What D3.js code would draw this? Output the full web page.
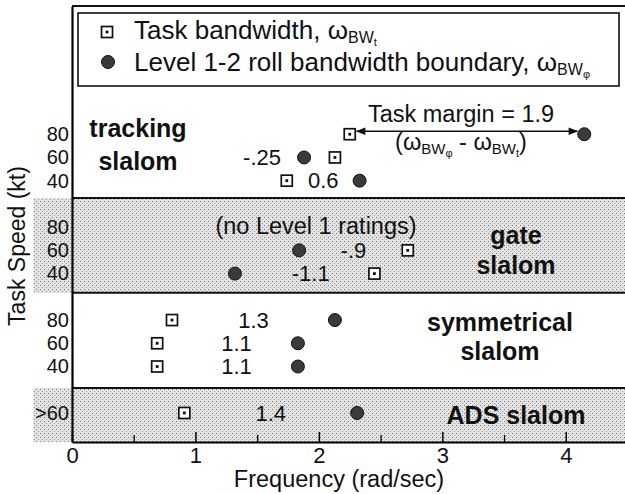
<!DOCTYPE html>
<html>
<head>
<meta charset="utf-8">
<script src="https://cdn.jsdelivr.net/npm/d3@7"></script>
<style>
  body { margin: 0; background: #fff; }
  svg text { font-family: "Liberation Sans", Arial, Helvetica, sans-serif; fill: #111; }
</style>
</head>
<body>
<script>
(function () {

    //chart values
    var speedLabels = ["80", "60", "40", "80", "60", "40", "80", "60", "40", ">60"];
    var rowSection = [0, 0, 0, 1, 1, 1, 2, 2, 2, 3];
    var taskBW = [2.25, 2.13, 1.74, null, 2.72, 2.45, 0.81, 0.69, 0.69, 0.91];  //squares
    var rollBW = [4.15, 1.88, 2.33, null, 1.84, 1.32, 2.13, 1.83, 1.83, 2.31];  //circles
    var marginLabels = ["", "-.25", "0.6", "", "-.9", "-1.1", "1.3", "1.1", "1.1", "1.4"];
    var xTicks = [0, 1, 2, 3, 4];
    var xMinorTicks = [0.5, 1.5, 2.5, 3.5];

    var width = 625, height = 494;

    var svg = d3.select("body").append("svg")
        .attr("width", width)
        .attr("height", height);

    //stipple texture for the shaded bands
    var defs = svg.append("defs");
    var pat = defs.append("pattern")
        .attr("id", "stipple")
        .attr("patternUnits", "userSpaceOnUse")
        .attr("width", 4).attr("height", 4);
    pat.append("rect").attr("width", 4).attr("height", 4).style("fill", "#e2e2e2");
    pat.append("rect").attr("x", 0).attr("y", 1).attr("width", 1).attr("height", 1).style("fill", "#7a7a7a");
    pat.append("rect").attr("x", 2).attr("y", 3).attr("width", 1).attr("height", 1).style("fill", "#9a9a9a");

    //scales
    var x = d3.scaleLinear().domain([0, 4.48]).range([72, 625]);
    var y = d3.scaleLinear().domain([-5.52, 13.25]).range([6, 442]);

    //row position: rows with one empty slot between sections
    var rowPos = speedLabels.map(function (d, i) { return i + rowSection[i]; });

    //shaded bands (gate and ADS)
    var bands = [[2.75, 6.83], [10.92, 13.25]];
    svg.selectAll(".band")
        .data(bands)
        .enter()
        .append("rect")
        .attr("class", "band")
        .attr("x", 33)
        .attr("width", width - 33)
        .attr("y", function (d) { return y(d[0]); })
        .attr("height", function (d) { return y(d[1]) - y(d[0]); })
        .style("fill", "url(#stipple)");

    //section boundary lines and top frame
    var frameLines = [-5.52, 2.75, 6.83, 10.92];
    svg.selectAll(".sep")
        .data(frameLines)
        .enter()
        .append("line")
        .attr("x1", x(0)).attr("x2", width)
        .attr("y1", function (d) { return y(d); })
        .attr("y2", function (d) { return y(d); })
        .style("stroke", "#111")
        .style("stroke-width", 2);

    //legend box
    svg.append("rect")
        .attr("x", 78).attr("y", 13)
        .attr("width", 541).attr("height", 73)
        .style("fill", "#fff")
        .style("stroke", "#111")
        .style("stroke-width", 1.6);

    function drawSquare(g, cx, cy) {
        g.append("rect")
            .attr("x", cx - 5.5).attr("y", cy - 5.5)
            .attr("width", 11).attr("height", 11)
            .style("fill", "#fff").style("stroke", "#111").style("stroke-width", 1.7);
        g.append("rect")
            .attr("x", cx - 1.4).attr("y", cy - 1.4)
            .attr("width", 2.8).attr("height", 2.8)
            .style("fill", "#111");
    }

    function drawCircle(g, cx, cy) {
        g.append("circle")
            .attr("cx", cx).attr("cy", cy).attr("r", 6.5)
            .style("fill", "#3a3a3a").style("stroke", "#111").style("stroke-width", 1);
    }

    //omega with subscript BW and sub-subscript
    function addOmega(t, sub, big) {
        t.append("tspan").text("\u03c9");
        t.append("tspan").attr("dy", 4).style("font-size", big ? "16px" : "15px").text("BW");
        t.append("tspan").attr("dy", 3).style("font-size", "11px").text(sub);
    }

    var legend = svg.append("g");
    drawSquare(legend, 107, 32);
    drawCircle(legend, 108, 62);
    var l1 = legend.append("text").attr("x", 134).attr("y", 39).style("font-size", "26px");
    l1.append("tspan").text("Task bandwidth, ");
    addOmega(l1, "t", true);
    var l2 = legend.append("text").attr("x", 134).attr("y", 71).style("font-size", "26px");
    l2.append("tspan").text("Level 1-2 roll bandwidth boundary, ");
    addOmega(l2, "\u03c6", true);

    //axes
    var xAxis = d3.axisBottom(x)
        .tickValues(xTicks)
        .tickFormat(d3.format("d"))
        .tickSizeInner(-10)
        .tickSizeOuter(0)
        .tickPadding(5);

    var gx = svg.append("g")
        .attr("transform", "translate(0," + y(13.25) + ")")
        .call(xAxis);
    gx.select(".domain").style("stroke-width", 2.2);
    gx.selectAll(".tick line").style("stroke-width", 1.5);
    gx.selectAll("text").style("font-size", "22px").style("font-family", "Liberation Sans, Arial, sans-serif");

    var gxm = svg.append("g")
        .attr("transform", "translate(0," + y(13.25) + ")")
        .call(d3.axisBottom(x).tickValues(xMinorTicks).tickSizeInner(-7).tickSizeOuter(0).tickFormat(""));
    gxm.select(".domain").remove();
    gxm.selectAll(".tick line").style("stroke-width", 1.3);

    var yAxis = d3.axisLeft(y)
        .tickValues(rowPos)
        .tickFormat(function (d, i) { return speedLabels[i]; })
        .tickSize(0)
        .tickPadding(3);

    var gy = svg.append("g")
        .attr("transform", "translate(" + x(0) + ",0)")
        .call(yAxis);
    gy.select(".domain").style("stroke-width", 2.2);
    gy.selectAll("text").style("font-size", "20px").style("font-family", "Liberation Sans, Arial, sans-serif");

    //axis titles
    svg.append("text")
        .attr("x", 339).attr("y", 487)
        .attr("text-anchor", "middle")
        .style("font-size", "23.5px")
        .text("Frequency (rad/sec)");

    svg.append("text")
        .attr("transform", "translate(25,246) rotate(-90)")
        .attr("text-anchor", "middle")
        .style("font-size", "23px")
        .text("Task Speed (kt)");

    //data points
    var rows = speedLabels.map(function (d, i) {
        return { pos: rowPos[i], task: taskBW[i], roll: rollBW[i], label: marginLabels[i] };
    });

    var pts = svg.append("g");
    rows.forEach(function (r) {
        if (r.task === null) return;
        drawSquare(pts, x(r.task), y(r.pos));
        drawCircle(pts, x(r.roll), y(r.pos));
    });

    //margin labels: between the two marks, "-.25" sits left of the pair
    var labelShift = [0, 0, 0, 0, 0, 6, 0, 9, 9, 0];
    svg.selectAll(".mlabel")
        .data(rows.filter(function (r) { return r.label !== ""; }))
        .enter()
        .append("text")
        .attr("class", "mlabel")
        .attr("x", function (r) {
            var i = rows.indexOf(r);
            if (i === 1) return x(Math.min(r.task, r.roll)) - 42;
            return x((r.task + r.roll) / 2) + labelShift[i];
        })
        .attr("y", function (r) { return y(r.pos); })
        .attr("dy", "0.35em")
        .attr("text-anchor", "middle")
        .style("font-size", "22px")
        .text(function (r) { return r.label; });

    //task margin arrow for tracking 80 kt
    ["start", "end"].forEach(function (k) {
        defs.append("marker")
            .attr("id", "arr-" + k)
            .attr("viewBox", "0 0 10 10")
            .attr("refX", 9).attr("refY", 5)
            .attr("markerWidth", 7).attr("markerHeight", 6)
            .attr("orient", k === "start" ? "auto-start-reverse" : "auto")
            .append("path")
            .attr("d", "M0,1 L10,5 L0,9 Z")
            .style("fill", "#111");
    });
    var r0 = rows[0];
    svg.append("line")
        .attr("x1", x(r0.task) + 7).attr("x2", x(r0.roll) - 7)
        .attr("y1", y(r0.pos) - 3).attr("y2", y(r0.pos) - 3)
        .style("stroke", "#111").style("stroke-width", 1.6)
        .attr("marker-start", "url(#arr-start)")
        .attr("marker-end", "url(#arr-end)");

    var midX = x((r0.task + r0.roll) / 2) - 6;
    svg.append("text")
        .attr("x", midX).attr("y", y(r0.pos) - 12)
        .attr("text-anchor", "middle")
        .style("font-size", "23.5px")
        .text("Task margin = " + d3.format(".1f")(r0.roll - r0.task));

    var mt = svg.append("text")
        .attr("x", midX).attr("y", y(r0.pos) + 16)
        .attr("text-anchor", "middle")
        .style("font-size", "23.5px");
    mt.append("tspan").text("(");
    addOmega(mt, "\u03c6");
    mt.append("tspan").attr("dy", -7).text(" - ");
    addOmega(mt, "t");
    mt.append("tspan").attr("dy", -7).text(")");

    svg.append("text")
        .attr("x", 316).attr("y", y(4) - 2)
        .attr("dy", "0.36em")
        .attr("text-anchor", "middle")
        .style("font-size", "23.5px")
        .text("(no Level 1 ratings)");

    //section titles
    var titles = [
        { lines: ["tracking", "slalom"], x: 138, y: [137, 170] },
        { lines: ["gate", "slalom"], x: 516, y: [244, 274] },
        { lines: ["symmetrical", "slalom"], x: 500, y: [331, 360] },
        { lines: ["ADS slalom"], x: 516, y: [424] }
    ];
    titles.forEach(function (t) {
        t.lines.forEach(function (s, j) {
            svg.append("text")
                .attr("x", t.x).attr("y", t.y[j])
                .attr("text-anchor", "middle")
                .style("font-size", "25px")
                .style("font-weight", "bold")
                .text(s);
        });
    });

})();
</script>
</body>
</html>
